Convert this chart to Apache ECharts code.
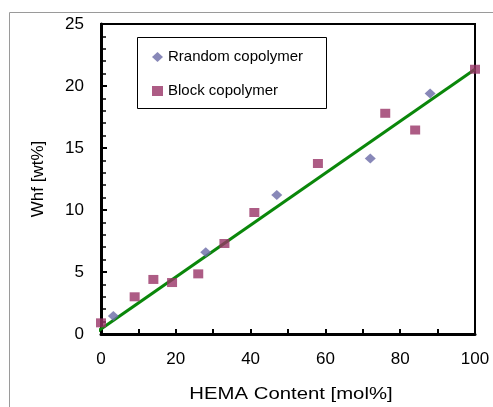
<!DOCTYPE html>
<html>
<head>
<meta charset="utf-8">
<style>
  html, body { margin: 0; padding: 0; background: #fff; }
  #chart { width: 493px; height: 407px; }
</style>
<script src="https://cdn.jsdelivr.net/npm/echarts@6/dist/echarts.min.js"></script>
</head>
<body>
<div id="chart"></div>
<script>
// HEMA content [mol%] vs Whf [wt%]
const randomX = [3.3, 28, 47, 72, 88];
const randomY = [1.45, 6.6, 11.2, 14.15, 19.4];
const blockX = [0, 9, 14, 19, 26, 33, 41, 58, 76, 84, 100];
const blockY = [0.9, 3.0, 4.4, 4.15, 4.85, 7.3, 9.8, 13.75, 17.8, 16.45, 21.35];
const fitX = [-1, 100];
const fitY = [0.2, 21.35];
const xTicks = [0, 20, 40, 60, 80, 100];
const yTicks = [0, 5, 10, 15, 20, 25];

const zip = (xs, ys) => xs.map((x, i) => [x, ys[i]]);
const font = '"Liberation Sans", Arial, sans-serif';

const chart = echarts.init(document.getElementById('chart'));
chart.setOption({
  animation: false,
  grid: {
    left: 101, right: 18, top: 24, bottom: 73,
    show: true, borderColor: '#000', borderWidth: 2, backgroundColor: 'transparent'
  },
  xAxis: {
    type: 'value', min: xTicks[0], max: xTicks[xTicks.length - 1], interval: 20,
    axisLine: { lineStyle: { color: '#000', width: 3 } },
    axisTick: { inside: true, length: 5, lineStyle: { color: '#000', width: 2 } },
    minorTick: { show: true, splitNumber: 2, length: 5, lineStyle: { color: '#000', width: 2 } },
    axisLabel: { fontFamily: font, fontSize: 17, color: '#000', margin: 17 },
    splitLine: { show: false }
  },
  yAxis: {
    type: 'value', min: yTicks[0], max: yTicks[yTicks.length - 1], interval: 5,
    name: 'Whf [wt%]', nameLocation: 'middle', nameGap: 54, nameRotate: 90,
    nameTextStyle: { fontFamily: font, fontSize: 17, color: '#000' },
    axisLine: { lineStyle: { color: '#000', width: 3 } },
    axisTick: { inside: true, length: 6, lineStyle: { color: '#000', width: 2 } },
    minorTick: { show: true, splitNumber: 5, length: 5, lineStyle: { color: '#000', width: 1.5 } },
    axisLabel: { fontFamily: font, fontSize: 17, color: '#000', margin: 17 },
    splitLine: { show: false }
  },
  legend: {
    orient: 'vertical', left: 147, top: 44.5, itemGap: 19,
    itemWidth: 11, itemHeight: 10,
    textStyle: { fontFamily: font, fontSize: 15, color: '#000' },
    data: [
      { name: 'Rrandom copolymer', icon: 'diamond' },
      { name: 'Block copolymer', icon: 'rect' }
    ]
  },
  graphic: [
    { type: 'rect', silent: true, shape: { x: 9.5, y: 12.5, width: 600, height: 600 },
      style: { fill: 'none', stroke: '#9a9a9a', lineWidth: 1 } },
    { type: 'rect', silent: true, shape: { x: 137.5, y: 37.5, width: 189, height: 71 },
      style: { fill: '#fff', stroke: '#000', lineWidth: 1 }, z: -1 },
    // x axis title, drawn a little wide
    { type: 'text', silent: true, x: 291, y: 395, scaleX: 1.27,
      style: { text: 'HEMA Content [mol%]', fontFamily: font, fontSize: 16, fill: '#000',
               align: 'center', verticalAlign: 'middle' } }
  ],
  series: [
    {
      name: 'fit', type: 'line', data: zip(fitX, fitY), clip: false,
      showSymbol: false, symbol: 'none', silent: true,
      lineStyle: { color: '#0a870a', width: 3 }, z: 1
    },
    {
      name: 'Rrandom copolymer', type: 'scatter', data: zip(randomX, randomY),
      symbol: 'diamond', symbolSize: [11, 10], clip: false,
      itemStyle: { color: '#6a6aa6' }, z: 3
    },
    {
      name: 'Block copolymer', type: 'scatter', data: zip(blockX, blockY),
      symbol: 'rect', symbolSize: [10, 9], clip: false,
      itemStyle: { color: '#993366' }, z: 3
    }
  ]
});
</script>
</body>
</html>
